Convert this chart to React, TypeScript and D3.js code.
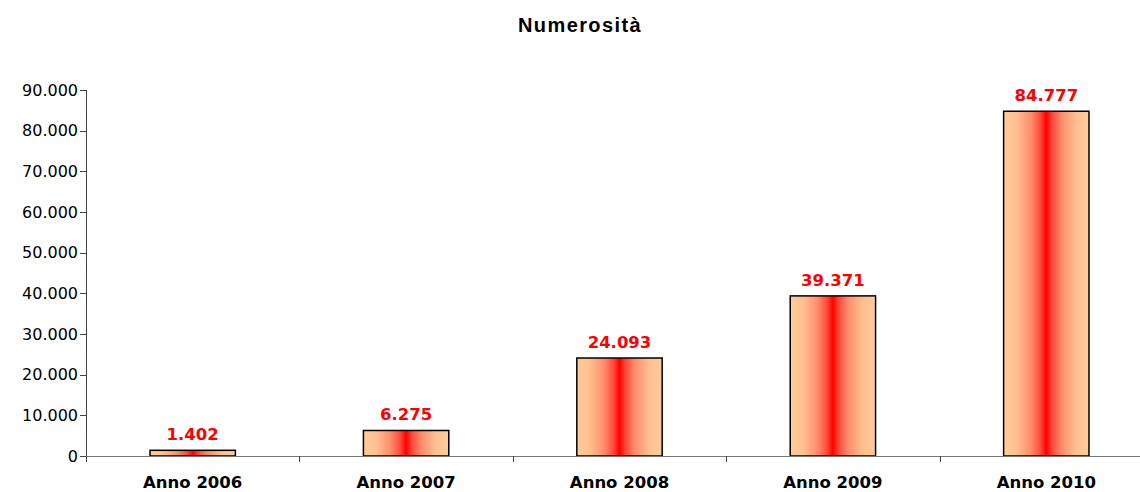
import React from "react";
import * as d3 from "d3";

const categories = ["Anno 2006", "Anno 2007", "Anno 2008", "Anno 2009", "Anno 2010"];
const values = [1402, 6275, 24093, 39371, 84777];
const yTicks = [0, 10000, 20000, 30000, 40000, 50000, 60000, 70000, 80000, 90000];
const title = "Numerosità";

const W = 1140;
const H = 492;
const left = 86;
const right = 1153;
const top = 90;
const bottom = 456;

const fmt = (v: number) => {
  const s = String(Math.round(v));
  return s.replace(/\B(?=(\d{3})+(?!\d))/g, ".");
};

export default function App() {
  const x = d3.scaleBand<string>().domain(categories).range([left, right]).paddingInner(0).paddingOuter(0);
  const y = d3.scaleLinear().domain([0, 90000]).range([bottom, top]);
  const bw = x.bandwidth() * 0.4;
  const labelFont = "'DejaVu Sans', Verdana, sans-serif";

  return (
    <svg width={W} height={H} style={{ position: "absolute", left: 0, top: 0, background: "#fff" }}>
      <defs>
        <linearGradient id="barGrad" x1="0" y1="0" x2="1" y2="0">
          <stop offset="0%" stopColor="#FFCC99" />
          <stop offset="15%" stopColor="#FFC090" />
          <stop offset="32%" stopColor="#FF8C6C" />
          <stop offset="43%" stopColor="#FF4A3A" />
          <stop offset="50%" stopColor="#FF0000" />
          <stop offset="57%" stopColor="#FF4A3A" />
          <stop offset="68%" stopColor="#FF8C6C" />
          <stop offset="85%" stopColor="#FFC090" />
          <stop offset="100%" stopColor="#FFCC99" />
        </linearGradient>
      </defs>
      <text x={580} y={32} textAnchor="middle" fontFamily="'Liberation Sans', Arial, sans-serif" fontWeight="bold" fontSize={20} letterSpacing={1.4} fill="#000">
        {title}
      </text>
      {/* y axis */}
      <line x1={left + 0.5} x2={left + 0.5} y1={top} y2={bottom + 6} stroke="#444" strokeWidth={1} />
      {yTicks.map((t) => (
        <g key={t}>
          <line x1={left - 6} x2={left} y1={Math.round(y(t)) + 0.5} y2={Math.round(y(t)) + 0.5} stroke="#444" />
          <text x={78} y={y(t)} dy="0.36em" textAnchor="end" fontFamily={labelFont} fontSize={16} fill="#000">
            {fmt(t)}
          </text>
        </g>
      ))}
      {/* bars */}
      {categories.map((c, i) => {
        const cx = (x(c) as number) + x.bandwidth() / 2;
        const yv = y(values[i]);
        return (
          <g key={c}>
            <rect x={cx - bw / 2} y={yv} width={bw} height={bottom - yv} fill="url(#barGrad)" stroke="#000" strokeWidth={1.5} />
            <text x={cx} y={yv - 10} textAnchor="middle" fontFamily={labelFont} fontWeight="bold" fontSize={16.5} fill="#FF0000">
              {fmt(values[i])}
            </text>
            <text x={cx} y={488} textAnchor="middle" fontFamily={labelFont} fontWeight="bold" fontSize={16.5} fill="#000">
              {c}
            </text>
          </g>
        );
      })}
      {/* x axis */}
      <line x1={left} x2={W} y1={bottom + 0.5} y2={bottom + 0.5} stroke="#777" strokeWidth={1} />
      {categories.slice(1).map((c) => {
        const tx = Math.round(x(c) as number) + 0.5;
        return <line key={c} x1={tx} x2={tx} y1={bottom} y2={bottom + 6} stroke="#444" />;
      })}
    </svg>
  );
}
